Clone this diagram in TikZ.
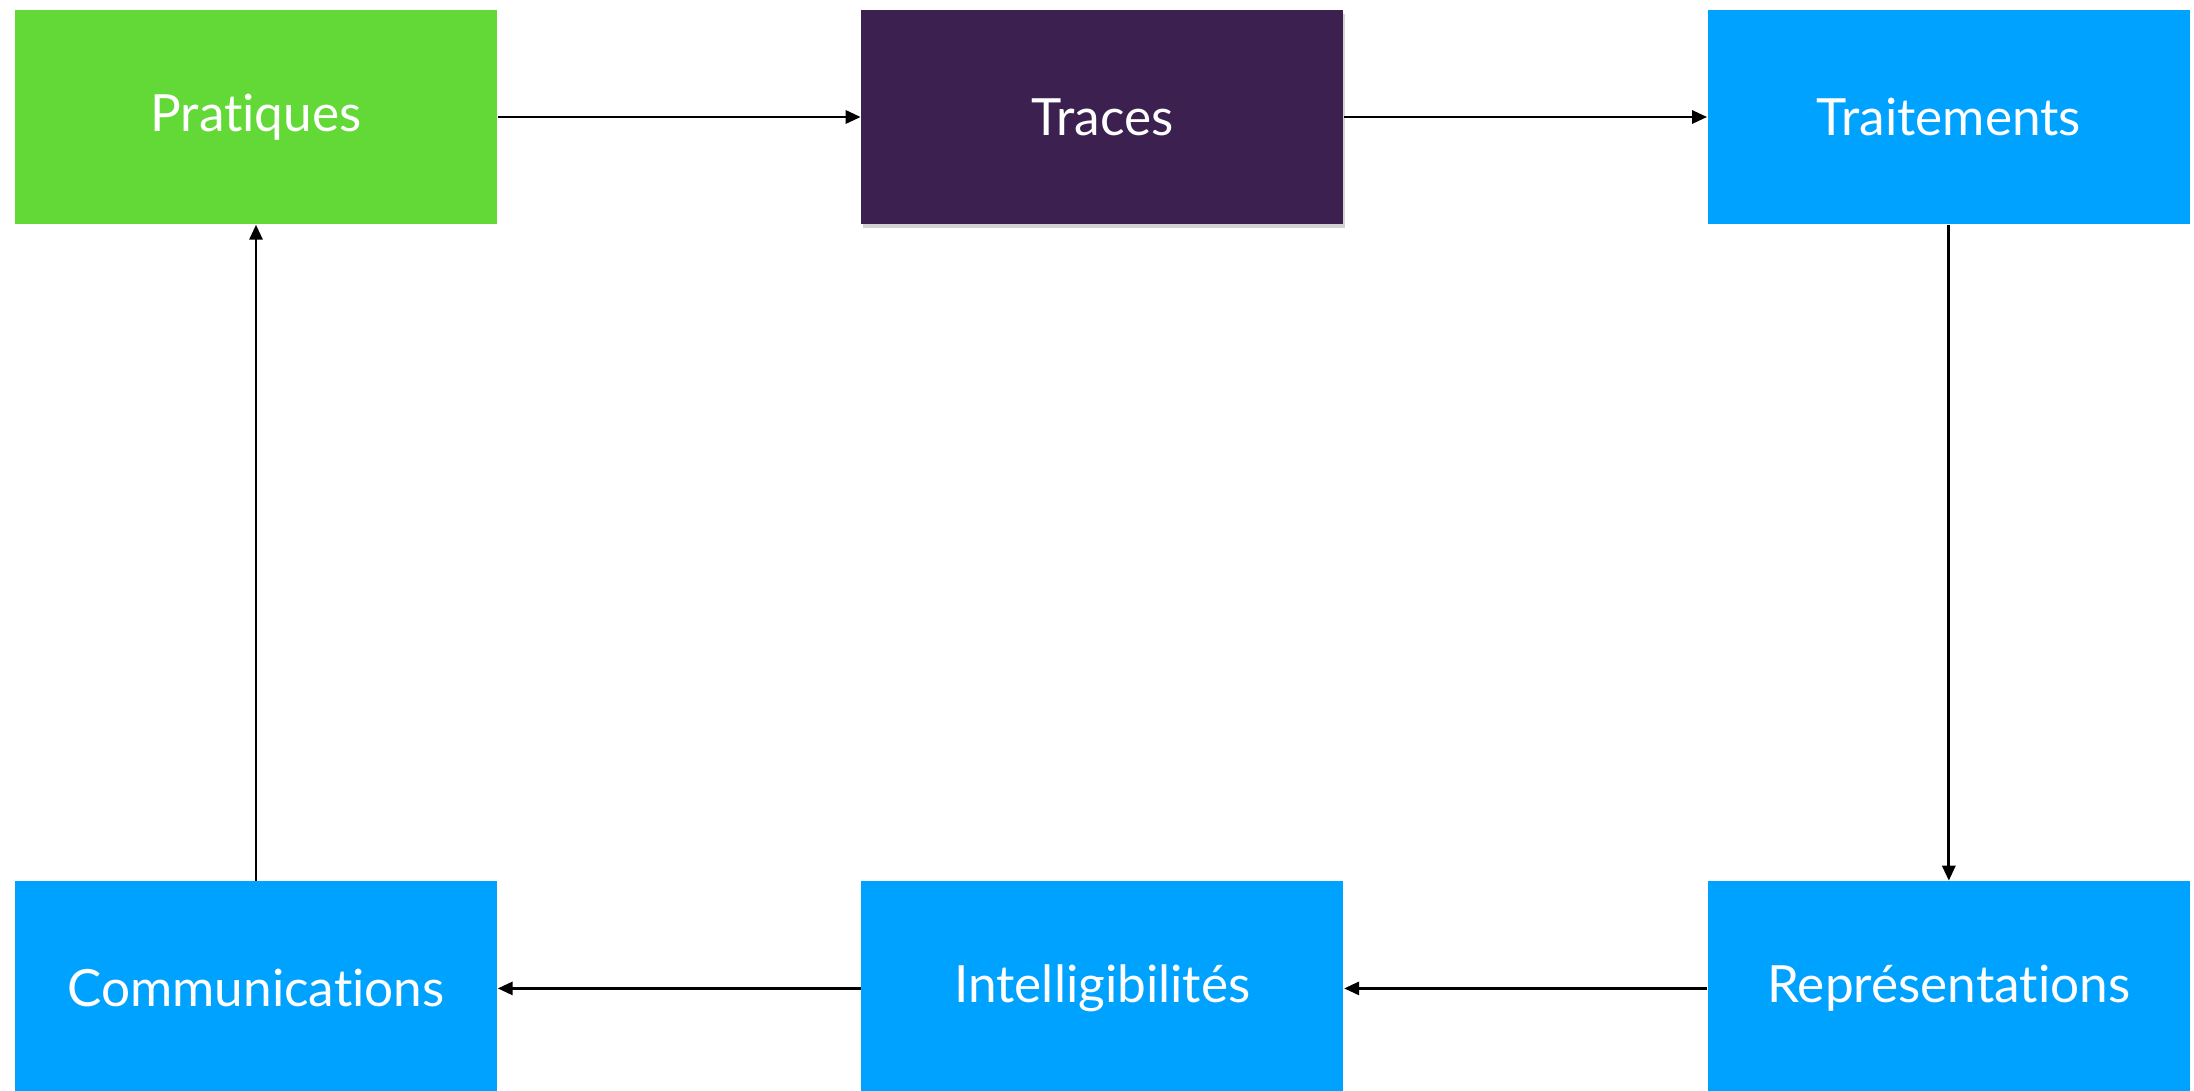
\documentclass[tikz,border=0pt]{standalone}
\usepackage{fontspec}
\setmainfont{Lato}[Ligatures=CommonOff]
\usetikzlibrary{positioning, shapes, arrows.meta, shadows}

\definecolor{pratgreen}{HTML}{62D936}
\definecolor{tracepurple}{HTML}{3C2050}
\definecolor{traitblue}{HTML}{00A2FF}

\begin{document}
\begin{tikzpicture}[node distance=3.63cm and 6.56cm,
    etape/.style={rectangle, minimum width=4.82cm, minimum height=2.14cm, inner sep=0pt,
      text=white, font=\fontsize{14.6}{18}\selectfont},
    fleche/.style={-{Triangle[length=1.5mm, width=1.3mm]}, line width=0.85pt}]
  \useasboundingbox (0,0) rectangle (21.94,10.9);
  \node[etape, fill=pratgreen] (pratiques) at (2.56,9.73) {Pratiques};
  \node[etape, fill=tracepurple, drop shadow={opacity=0.35, shadow xshift=0.4pt, shadow yshift=-1.2pt}] (traces) [right=3.63cm of pratiques] {Traces};
  \node[etape, fill=traitblue] (traitements) [right=3.63cm of traces] {Traitements};
  \node[etape, fill=traitblue] (representations) [below=6.56cm of traitements] {Représentations};
  \node[etape, fill=traitblue] (intelligibilites) [left=3.63cm of representations] {Intelligibilités};
  \node[etape, fill=traitblue] (communications) [left=3.63cm of intelligibilites] {Communications};
  \draw[fleche] (pratiques) -- (traces);
  \draw[fleche] (traces) -- (traitements);
  \draw[fleche] (traitements) -- (representations);
  \draw[fleche] (representations) -- (intelligibilites);
  \draw[fleche] (intelligibilites) -- (communications);
  \draw[fleche] (communications) -- (pratiques);
\end{tikzpicture}
\end{document}
